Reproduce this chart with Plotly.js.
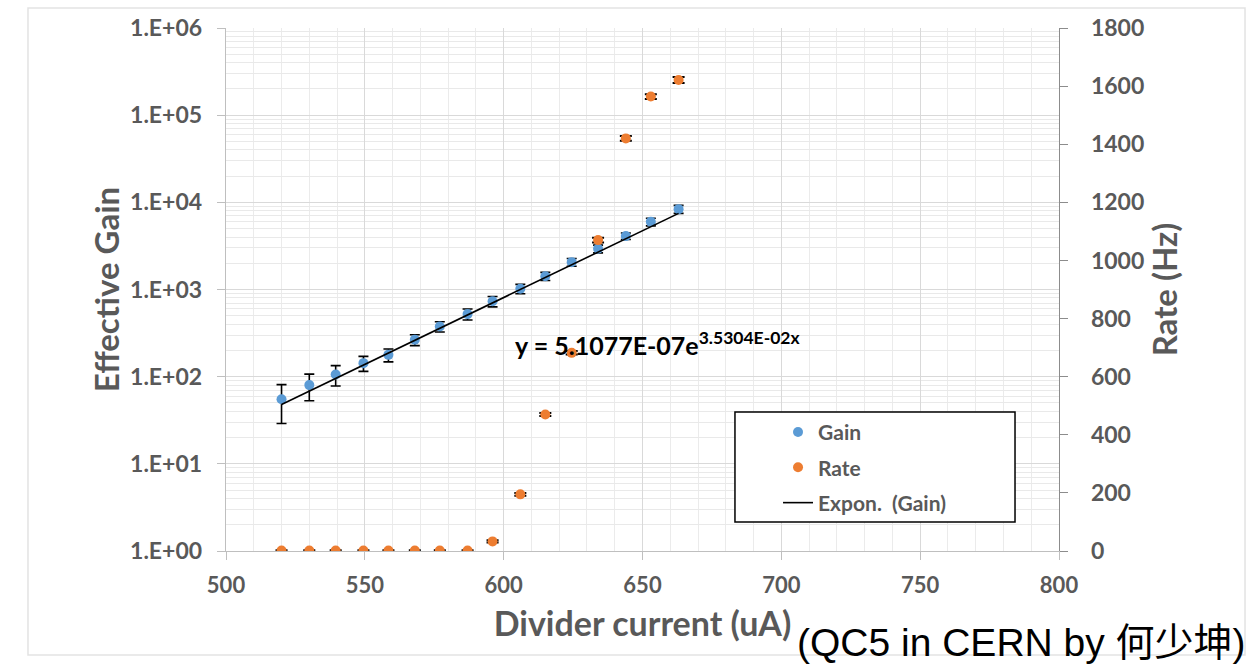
<!DOCTYPE html>
<html>
<head>
<meta charset="utf-8">
<script src="https://cdn.plot.ly/plotly-3.0.1.min.js"></script>
<style>
  html, body { margin: 0; padding: 0; background: #ffffff; }
  #chart { width: 1250px; height: 664px; }
</style>
</head>
<body>
<div id="chart"></div>
<script>
// Divider current scan: effective gain (log scale, left) and rate (right)
const current  = [520, 530, 539.5, 549.5, 558.5, 568, 577, 587, 596, 606, 615, 624.5, 634, 644, 653, 663];
const gain     = [55, 80, 106, 143, 178, 265, 376, 522, 732, 1020, 1420, 2060, 2930, 4096, 5970, 8350];
const gainErr  = [26, 27, 28, 28, 30, 38, 50, 75, 100, 125, 150, 210, 300, 350, 600, 880];
const rate     = [2, 2, 2, 2, 2, 2, 2, 2, 33, 195, 470, 682, 1070, 1420, 1564, 1621];
const rateErr  = [1, 1, 1, 1, 1, 1, 1, 1, 4, 5, 5, 6, 8, 8, 8, 10];

// Exponential fit of the gain: y = A * exp(B * x)
const fitA = 5.1077e-7;
const fitB = 3.5304e-2;

const gainTickVals = [1, 10, 100, 1e3, 1e4, 1e5, 1e6];
const gainTickText = ['1.E+00', '1.E+01', '1.E+02', '1.E+03', '1.E+04', '1.E+05', '1.E+06'];
const rateTickVals = [0, 200, 400, 600, 800, 1000, 1200, 1400, 1600, 1800];

// Minor log gridlines: 2..9 within every decade
const logMinor = [];
for (let k = 0; k < gainTickVals.length - 1; k++) {
  for (let m = 2; m <= 9; m++) logMinor.push(m * gainTickVals[k]);
}

// Trendline evaluated over the measured current span
const xMin = Math.min(...current), xMax = Math.max(...current);
const fitX = [], fitY = [];
for (let i = 0; i <= 40; i++) {
  const x = xMin + (xMax - xMin) * i / 40;
  fitX.push(x);
  fitY.push(fitA * Math.exp(fitB * x));
}

const gray = '#595959';
const fam = 'Lato, "Open Sans", sans-serif';

const traces = [
  {
    name: '<b>Gain</b>', x: current, y: gain, type: 'scatter', mode: 'markers',
    marker: { color: '#5B9BD5', size: 10 },
    error_y: { type: 'data', array: gainErr, visible: true, color: '#000000', thickness: 1.6, width: 5 },
    legendgroup: 'g1'
  },
  {
    name: '<b>Rate</b>', x: current, y: rate, yaxis: 'y2', type: 'scatter', mode: 'markers',
    marker: { color: '#ED7D31', size: 10 },
    error_y: { type: 'data', array: rateErr, visible: true, color: '#000000', thickness: 2, width: 6 },
    legendgroup: 'g2'
  },
  {
    name: '<b>Expon.  (Gain)</b>', x: fitX, y: fitY, type: 'scatter', mode: 'lines',
    line: { color: '#000000', width: 1.6 },
    legendgroup: 'g3'
  }
];

const layout = {
  width: 1250, height: 664,
  margin: { l: 226, r: 191, t: 28, b: 113 },
  paper_bgcolor: '#ffffff', plot_bgcolor: '#ffffff',
  font: { family: fam, color: gray, size: 22 },
  showlegend: true,
  legend: {
    x: 0.6627, y: 0.266, xanchor: 'left', yanchor: 'top',
    bgcolor: 'rgba(0,0,0,0)', borderwidth: 0,
    font: { family: fam, size: 21, color: gray },
    traceorder: 'grouped', tracegroupgap: 5
  },
  xaxis: {
    range: [500, 800], dtick: 50, tick0: 500,
    showgrid: true, gridcolor: '#d9d9d9', gridwidth: 1.3,
    minor: { dtick: 10, showgrid: true, gridcolor: '#ebebeb', gridwidth: 1 },
    showline: true, linecolor: '#bfbfbf', linewidth: 1.3,
    ticks: 'outside', ticklen: 8, tickcolor: '#bfbfbf',
    ticklabelstandoff: 6,
    tickprefix: '<b>', ticksuffix: '</b>',
    tickfont: { family: fam, size: 22, color: gray },
    zeroline: false,
    title: { text: '<b>Divider current (uA)</b>', font: { family: fam, size: 34, color: gray }, standoff: 15 }
  },
  yaxis: {
    type: 'log', range: [0, 6],
    tickmode: 'array', tickvals: gainTickVals, ticktext: gainTickText.map(t => '<b>' + t + '</b>'),
    showgrid: true, gridcolor: '#d9d9d9', gridwidth: 1.3,
    minor: { tickmode: 'array', tickvals: logMinor, showgrid: true, gridcolor: '#e9e9e9', gridwidth: 1, ticks: '' },
    showline: true, linecolor: '#bfbfbf', linewidth: 1.3,
    ticks: 'outside', ticklen: 8, tickcolor: '#bfbfbf',
    ticklabelstandoff: 10,
    tickfont: { family: fam, size: 23, color: gray },
    zeroline: false,
    title: { text: '<b>Effective Gain</b>', font: { family: fam, size: 33, color: gray }, standoff: 0 }
  },
  yaxis2: {
    overlaying: 'y', side: 'right', range: [0, 1800],
    tickmode: 'array', tickvals: rateTickVals, ticktext: rateTickVals.map(v => '<b>' + v + '</b>'),
    showgrid: false, zeroline: false,
    showline: true, linecolor: '#8c8c8c', linewidth: 1.3,
    ticks: 'outside', ticklen: 8, tickcolor: '#8c8c8c',
    ticklabelstandoff: 18,
    tickfont: { family: fam, size: 23, color: gray },
    title: { text: '<b>Rate (Hz)</b>', font: { family: fam, size: 33, color: gray }, standoff: 2 }
  },
  shapes: [
    // outer chart frame
    { type: 'rect', xref: 'paper', yref: 'paper', x0: -0.2377, x1: 1.2233, y0: -0.1989, y1: 1.0382,
      line: { color: '#e3e3e3', width: 1.5 }, fillcolor: 'rgba(0,0,0,0)', layer: 'below' },
    // legend box
    { type: 'rect', xref: 'paper', yref: 'paper', x0: 0.611, x1: 0.9472, y0: 0.0554, y1: 0.2658,
      line: { color: '#000000', width: 1.5 }, fillcolor: '#ffffff', layer: 'above' }
  ],
  annotations: [
    { xref: 'paper', yref: 'paper', x: 0.3445, y: 0.396, xanchor: 'left', yanchor: 'middle',
      text: '<b>y = 5.1077E-07e<sup>3.5304E-02x</sup></b>', showarrow: false,
      font: { family: fam, size: 25, color: '#000000' } },
    { xref: 'paper', yref: 'paper', x: 0.683, y: -0.174, xanchor: 'left', yanchor: 'middle',
      text: '(QC5 in CERN by 何少坤)', showarrow: false,
      font: { family: '"Liberation Sans", Arial, "Noto Sans CJK SC", sans-serif', size: 39, color: '#000000', weight: 'normal' } }
  ]
};

Plotly.newPlot('chart', traces, layout, { displayModeBar: false, staticPlot: true });
</script>
</body>
</html>
